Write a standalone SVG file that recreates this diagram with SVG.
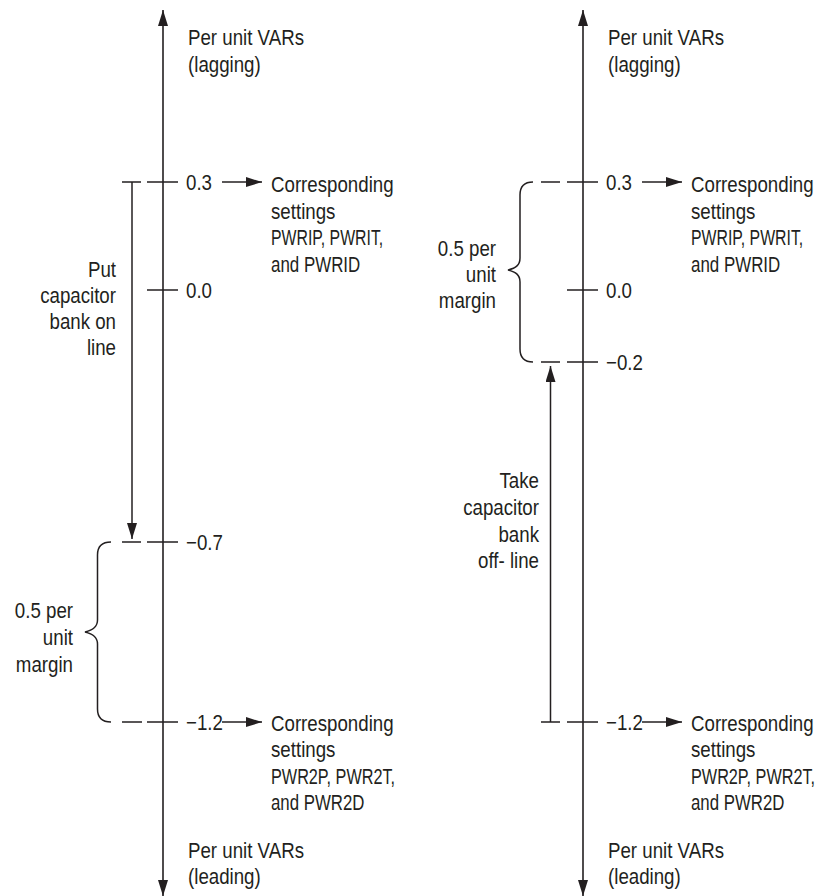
<svg xmlns="http://www.w3.org/2000/svg" width="820" height="896" viewBox="0 0 820 896">
  <defs>
    <marker id="head" markerUnits="userSpaceOnUse" markerWidth="17" markerHeight="11" refX="16" refY="5" orient="auto-start-reverse" viewBox="0 0 17 11">
      <path d="M0,0 L16,5 L0,10 z" fill="#231f20"/>
    </marker>
    <style>
      text { font-family: "Liberation Sans", Arial, sans-serif; font-size: 22px; fill: #231f20; }
      .end { text-anchor: end; }
      .ln { stroke: #231f20; stroke-width: 1.5; fill: none; }
      .arr { stroke: #231f20; stroke-width: 1.5; fill: none; marker-end: url(#head); }
      .axis { stroke: #231f20; stroke-width: 1.6; fill: none; marker-start: url(#head); marker-end: url(#head); }
    </style>
  </defs>

  <!-- Left chart: capacitor bank switched on. Text blocks are narrowed horizontally. -->
  <g id="left-axis">
    <line class="axis" x1="163" y1="896" x2="163" y2="10"/>
    <g transform="translate(188 0) scale(0.85 1)">
      <text y="45">Per unit VARs</text>
      <text y="72">(lagging)</text>
      <text y="858">Per unit VARs</text>
      <text y="884">(leading)</text>
    </g>
  </g>
  <g id="left-tick-0.3">
    <path class="ln" d="M122,182 H141 M147,182 H178"/>
    <text transform="translate(186 190) scale(0.85 1)">0.3</text>
  </g>
  <g id="left-tick-0.0">
    <path class="ln" d="M147,290 H178"/>
    <text transform="translate(186 298) scale(0.85 1)">0.0</text>
  </g>
  <g id="left-tick-m0.7">
    <path class="ln" d="M122,542 H141 M147,542 H178"/>
    <text transform="translate(186 550) scale(0.85 1)">−0.7</text>
  </g>
  <g id="left-tick-m1.2">
    <path class="ln" d="M122,722 H142 M147,722 H178"/>
    <text transform="translate(186 730) scale(0.85 1)">−1.2</text>
  </g>
  <g id="left-settings-high" transform="translate(271 0) scale(0.85 1)">
    <text y="192">Corresponding</text>
    <text y="219">settings</text>
    <text y="245" textLength="132" lengthAdjust="spacingAndGlyphs">PWRIP, PWRIT,</text>
    <text y="272" textLength="105" lengthAdjust="spacingAndGlyphs">and PWRID</text>
  </g>
  <g id="left-settings-low" transform="translate(271 0) scale(0.85 1)">
    <text y="731">Corresponding</text>
    <text y="757">settings</text>
    <text y="784" textLength="146" lengthAdjust="spacingAndGlyphs">PWR2P, PWR2T,</text>
    <text y="810" textLength="110" lengthAdjust="spacingAndGlyphs">and PWR2D</text>
  </g>
  <g id="left-put-on-line" transform="translate(116 0) scale(0.85 1)">
    <text class="end" y="277">Put</text>
    <text class="end" y="303">capacitor</text>
    <text class="end" y="329">bank on</text>
    <text class="end" y="355">line</text>
  </g>
  <g id="left-margin">
    <path class="ln" d="M111,542 C102,542 97.5,546 97.5,555 L97.5,620 C97.5,627 93,630 85,632 C93,634 97.5,637 97.5,644 L97.5,709 C97.5,718 102,722 111,722"/>
    <g transform="translate(73 0) scale(0.85 1)">
      <text class="end" y="618">0.5 per</text>
      <text class="end" y="645">unit</text>
      <text class="end" y="672">margin</text>
    </g>
  </g>

  <!-- Right chart: capacitor bank switched off -->
  <g id="right-axis">
    <line class="axis" x1="583" y1="896" x2="583" y2="10"/>
    <g transform="translate(608 0) scale(0.85 1)">
      <text y="45">Per unit VARs</text>
      <text y="72">(lagging)</text>
      <text y="858">Per unit VARs</text>
      <text y="884">(leading)</text>
    </g>
  </g>
  <g id="right-tick-0.3">
    <path class="ln" d="M541,182 H560 M567,182 H598"/>
    <text transform="translate(606 190) scale(0.85 1)">0.3</text>
  </g>
  <g id="right-tick-0.0">
    <path class="ln" d="M567,290 H598"/>
    <text transform="translate(606 298) scale(0.85 1)">0.0</text>
  </g>
  <g id="right-tick-m0.2">
    <path class="ln" d="M541,362 H560 M567,362 H598"/>
    <text transform="translate(606 370) scale(0.85 1)">−0.2</text>
  </g>
  <g id="right-tick-m1.2">
    <path class="ln" d="M541,722 H560 M567,722 H598"/>
    <text transform="translate(606 730) scale(0.85 1)">−1.2</text>
  </g>
  <g id="right-settings-high" transform="translate(691 0) scale(0.85 1)">
    <text y="192">Corresponding</text>
    <text y="219">settings</text>
    <text y="245" textLength="132" lengthAdjust="spacingAndGlyphs">PWRIP, PWRIT,</text>
    <text y="272" textLength="105" lengthAdjust="spacingAndGlyphs">and PWRID</text>
  </g>
  <g id="right-settings-low" transform="translate(691 0) scale(0.85 1)">
    <text y="731">Corresponding</text>
    <text y="757">settings</text>
    <text y="784" textLength="146" lengthAdjust="spacingAndGlyphs">PWR2P, PWR2T,</text>
    <text y="810" textLength="110" lengthAdjust="spacingAndGlyphs">and PWR2D</text>
  </g>
  <g id="right-margin">
    <path class="ln" d="M533,182 C524,182 520,186 520,195 L520,258 C520,265 516,268 508,270 C516,272 520,275 520,282 L520,349 C520,358 524,362 533,362"/>
    <g transform="translate(496 0) scale(0.85 1)">
      <text class="end" y="256">0.5 per</text>
      <text class="end" y="282">unit</text>
      <text class="end" y="308">margin</text>
    </g>
  </g>
  <g id="right-take-off-line" transform="translate(539 0) scale(0.85 1)">
    <text class="end" y="488">Take</text>
    <text class="end" y="515">capacitor</text>
    <text class="end" y="542">bank</text>
    <text class="end" y="568">off- line</text>
  </g>

  <!-- Connectors -->
  <g id="connectors">
    <path class="arr" d="M222,182 H262"/>
    <path class="arr" d="M222,722 H262"/>
    <path class="arr" d="M642,182 H682"/>
    <path class="arr" d="M642,722 H682"/>
    <path class="arr" d="M132,182 V539"/>
    <path class="arr" d="M550.5,722 V366"/>
  </g>
</svg>
